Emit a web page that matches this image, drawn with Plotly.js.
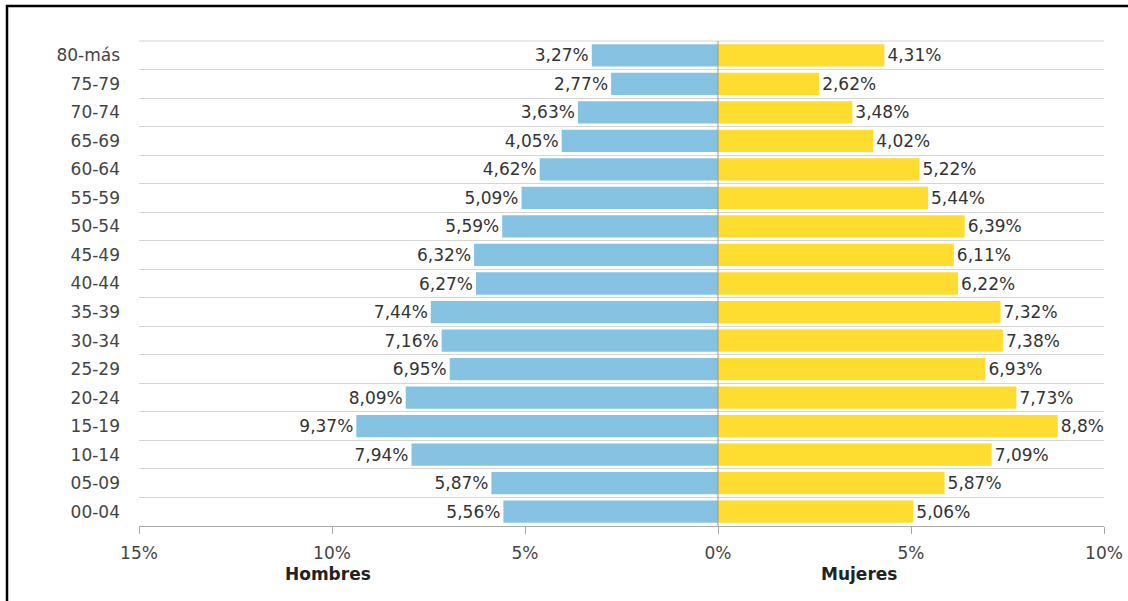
<!DOCTYPE html>
<html>
<head>
<meta charset="utf-8">
<script src="https://cdn.plot.ly/plotly-3.0.1.min.js"></script>
<style>
  html, body { margin: 0; padding: 0; background: #fff; }
  #chart { width: 1128px; height: 601px; }
</style>
</head>
<body>
<div id="chart"></div>
<script>
// Age groups, bottom to top
const categories = ['00-04','05-09','10-14','15-19','20-24','25-29','30-34','35-39','40-44','45-49','50-54','55-59','60-64','65-69','70-74','75-79','80-más'];
// Percentages
const hombres = [5.56, 5.87, 7.94, 9.37, 8.09, 6.95, 7.16, 7.44, 6.27, 6.32, 5.59, 5.09, 4.62, 4.05, 3.63, 2.77, 3.27];
const mujeres = [5.06, 5.87, 7.09, 8.8, 7.73, 6.93, 7.38, 7.32, 6.22, 6.11, 6.39, 5.44, 5.22, 4.02, 3.48, 2.62, 4.31];
// X axis ticks
const xTickVals = [-15, -10, -5, 0, 5, 10];
const xTickText = ['15%', '10%', '5%', '0%', '5%', '10%'];
const sideLabels = ['Hombres', 'Mujeres'];

const fmt = v => String(v).replace('.', ',') + '%';
const FONT = 'DejaVu Sans, Verdana, sans-serif';
const FS = 17;

const traces = [
  {
    type: 'bar', orientation: 'h', name: sideLabels[0],
    y: categories, x: hombres.map(v => -v),
    text: hombres.map(fmt), textposition: 'outside', cliponaxis: false,
    textfont: {family: FONT, size: FS, color: '#333'},
    marker: {color: '#86C3E3', line: {width: 0}},
    hoverinfo: 'skip'
  },
  {
    type: 'bar', orientation: 'h', name: sideLabels[1],
    y: categories, x: mujeres,
    text: mujeres.map(fmt), textposition: 'outside', cliponaxis: false,
    textfont: {family: FONT, size: FS, color: '#333'},
    marker: {color: '#FEDC30', line: {width: 0}},
    hoverinfo: 'skip'
  }
];

const L = 139, R = 24, T = 41, B = 75, W = 1128, H = 601;
const pw = W - L - R, ph = H - T - B;
const px = x => (x - L) / pw;
const py = y => (H - B - y) / ph;

const layout = {
  width: W, height: H,
  margin: {l: L, r: R, t: T, b: B, pad: 0},
  paper_bgcolor: '#fff', plot_bgcolor: '#fff',
  barmode: 'relative', bargap: 0.22,
  showlegend: false,
  font: {family: FONT, size: FS, color: '#444'},
  xaxis: {
    range: [-15, 10], tickmode: 'array', tickvals: xTickVals, ticktext: xTickText,
    showgrid: false, zeroline: false, showline: true, linecolor: '#aaa', linewidth: 1,
    ticks: 'outside', ticklen: 7, tickcolor: '#aaa', tickwidth: 1,
    ticklabelstandoff: 5,
    tickfont: {family: FONT, size: FS, color: '#444'},
    automargin: false, fixedrange: true
  },
  yaxis: {
    type: 'category', categoryorder: 'array', categoryarray: categories,
    range: [-0.5, categories.length - 0.5],
    tickson: 'boundaries', ticks: '', showgrid: true, gridcolor: '#d4d4d4', gridwidth: 1,
    zeroline: false, showline: false,
    ticklabelstandoff: 18,
    tickfont: {family: FONT, size: FS, color: '#444'},
    automargin: false, fixedrange: true
  },
  shapes: [
    {type: 'line', xref: 'paper', yref: 'paper', x0: 0, x1: 1, y0: 1, y1: 1, layer: 'below',
     line: {color: '#d4d4d4', width: 1}},
    {type: 'line', xref: 'x', yref: 'paper', x0: 0, x1: 0, y0: 0, y1: 1, layer: 'above',
     line: {color: '#999', width: 1}},
    {type: 'line', xref: 'paper', yref: 'paper', x0: px(7), x1: px(7), y0: py(606), y1: py(5),
     line: {color: '#000', width: 2.5}},
    {type: 'line', xref: 'paper', yref: 'paper', x0: px(6), x1: px(1130), y0: py(6), y1: py(6),
     line: {color: '#000', width: 2.5}}
  ],
  annotations: [
    {xref: 'paper', yref: 'paper', x: px(328), y: py(574), text: '<b>' + sideLabels[0] + '</b>',
     showarrow: false, xanchor: 'center', yanchor: 'middle', font: {family: FONT, size: FS, color: '#222'}},
    {xref: 'paper', yref: 'paper', x: px(859), y: py(574), text: '<b>' + sideLabels[1] + '</b>',
     showarrow: false, xanchor: 'center', yanchor: 'middle', font: {family: FONT, size: FS, color: '#222'}}
  ]
};

Plotly.newPlot('chart', traces, layout, {displayModeBar: false, staticPlot: true});
</script>
</body>
</html>
